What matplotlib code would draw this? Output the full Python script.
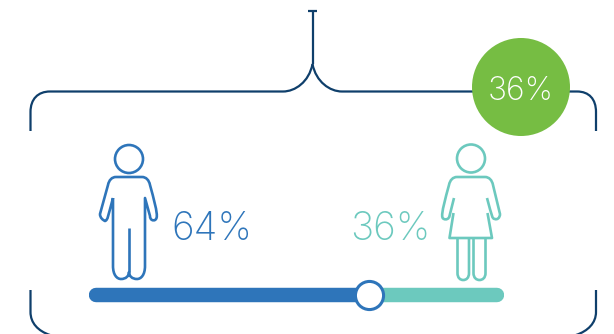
import matplotlib
matplotlib.use("Agg")
import matplotlib.pyplot as plt
from matplotlib.patches import Circle, PathPatch
from matplotlib.path import Path

W, H = 614, 334

groups = ["male", "female"]
shares = [64, 36]
callout_share = 36
labels = [f"{v}%" for v in shares]

BLUE = "#2E75BA"
TEAL = "#6CC9BE"
NAVY = "#0F3F6B"
GREEN = "#76BD43"
FONT = "Inter"

M, L, C = Path.MOVETO, Path.LINETO, Path.CURVE4


def stroke(ax, verts, codes, color, lw=1.6, **kw):
    ax.add_patch(PathPatch(Path(verts, codes), fill=False, edgecolor=color, lw=lw,
                           capstyle="butt", joinstyle="round", **kw))


def draw_bracket(ax):
    # stem and its small cap
    stroke(ax, [(308, 10.5), (317, 10.5)], [M, L], NAVY)
    stroke(ax, [(312.5, 10.5), (312.5, 64)], [M, L], NAVY)
    # top sweep, left and right
    stroke(ax, [(312.5, 64), (309, 82), (295, 91.5), (283, 91.5), (50, 91.5), (38, 91.5),
                (30.5, 99), (30.5, 112), (30.5, 131)],
           [M, C, C, C, L, C, C, C, L], NAVY)
    stroke(ax, [(312.5, 64), (316, 82), (330, 91.5), (342, 91.5), (577, 91.5), (589, 91.5),
                (596, 99), (596, 112), (596, 131)],
           [M, C, C, C, L, C, C, C, L], NAVY)
    # bottom corners run off the lower edge
    stroke(ax, [(30.5, 290), (30.5, 312), (30.5, 323), (38, 331), (50, 335)],
           [M, L, C, C, C], NAVY)
    stroke(ax, [(596, 290), (596, 312), (596, 323), (588, 331), (576, 335)],
           [M, L, C, C, C], NAVY)


def draw_man(ax, color):
    ax.add_patch(Circle((129, 159), 14, fill=False, edgecolor=color, lw=1.9))
    verts = [(113, 198), (113, 266), (113, 275), (117, 279), (121, 279),
             (126, 279), (129, 276), (129, 272), (129, 276), (132, 279), (137, 279),
             (141, 279), (145, 275), (145, 266), (145, 198),
             (150, 216), (150, 220), (153, 221), (155, 220), (158, 218), (158, 214),
             (150, 185), (149, 180), (146, 177), (142, 177),
             (116, 177), (112, 177), (109, 180), (108, 185),
             (100, 214), (100, 218), (103, 220), (105, 221), (108, 220), (108, 216), (113, 198)]
    codes = [M, L, C, C, C, C, C, C, C, C, C, C, C, C, L,
             L, C, C, C, C, C,
             L, C, C, C,
             L, C, C, C,
             L, C, C, C, C, C, L]
    stroke(ax, verts, codes, color, lw=1.9)
    stroke(ax, [(129, 228), (129, 272)], [M, L], color, lw=1.9)


def draw_woman(ax, color):
    ax.add_patch(Circle((471, 158.5), 14, fill=False, edgecolor=color, lw=1.9))
    verts = [(454, 198), (449.5, 216), (449, 219), (446, 220), (444, 219), (441, 218), (441, 214),
             (449, 185), (450, 180), (453, 177), (457, 177),
             (485, 177), (489, 177), (492, 180), (493, 185),
             (500, 214), (500, 218), (497, 220), (495, 219), (492, 219), (492, 216), (487, 198)]
    codes = [M, L, C, C, C, C, C,
             L, C, C, C,
             L, C, C, C,
             L, C, C, C, C, C, L]
    stroke(ax, verts, codes, color, lw=1.9)
    # dress
    stroke(ax, [(453.5, 213), (449.5, 238), (492, 238), (487.5, 213)], [M, L, L, L], color, lw=1.9)
    # legs
    for x0, x1 in [(457.5, 469), (473.5, 485.5)]:
        mid = (x0 + x1) / 2
        stroke(ax, [(x0, 238), (x0, 273), (x0, 278), (mid - 3, 280), (mid, 280),
                    (mid + 3, 280), (x1, 278), (x1, 273), (x1, 238)],
               [M, L, C, C, C, C, C, C, L], color, lw=1.9)


def draw_slider(fig):
    # value axis: 0 to 100 percent, the blue end of the track reaches a little past zero
    track_start = -10.7
    ax = fig.add_axes([89 / W, 1 - 310 / H, (504 - 89) / W, 30 / H])
    ax.set_xlim(track_start, 100)
    ax.set_ylim(-1, 1)
    ax.axis("off")
    cap = 1.9
    ax.plot([shares[0], 100 - cap], [0, 0], color=TEAL, lw=10.4, solid_capstyle="round")
    ax.plot([track_start + cap, shares[0]], [0, 0], color=BLUE, lw=10.4, solid_capstyle="round")
    ax.scatter([shares[0]], [0], s=410, facecolor="white", edgecolor=BLUE, linewidth=2.2, zorder=3,
               clip_on=False)


fig = plt.figure(figsize=(W / 100, H / 100), dpi=100)
ax = fig.add_axes([0, 0, 1, 1])
ax.set_xlim(0, W)
ax.set_ylim(H, 0)
ax.axis("off")

draw_bracket(ax)
draw_man(ax, BLUE)
draw_woman(ax, TEAL)
draw_slider(fig)

ax.text(212, 226, labels[0], color=BLUE, fontsize=28, family=FONT, fontweight="light",
        ha="center", va="center_baseline")
ax.text(390, 226, labels[1], color=TEAL, fontsize=28, family=FONT, fontweight="light",
        ha="center", va="center_baseline")

ax.add_patch(Circle((521, 87), 49, facecolor=GREEN, edgecolor="none", zorder=4))
ax.text(521, 88, f"{callout_share}%", color="white", fontsize=23, family=FONT, fontweight="light",
        ha="center", va="center_baseline", zorder=5)

fig.savefig("out.png", dpi=100)
plt.close(fig)
